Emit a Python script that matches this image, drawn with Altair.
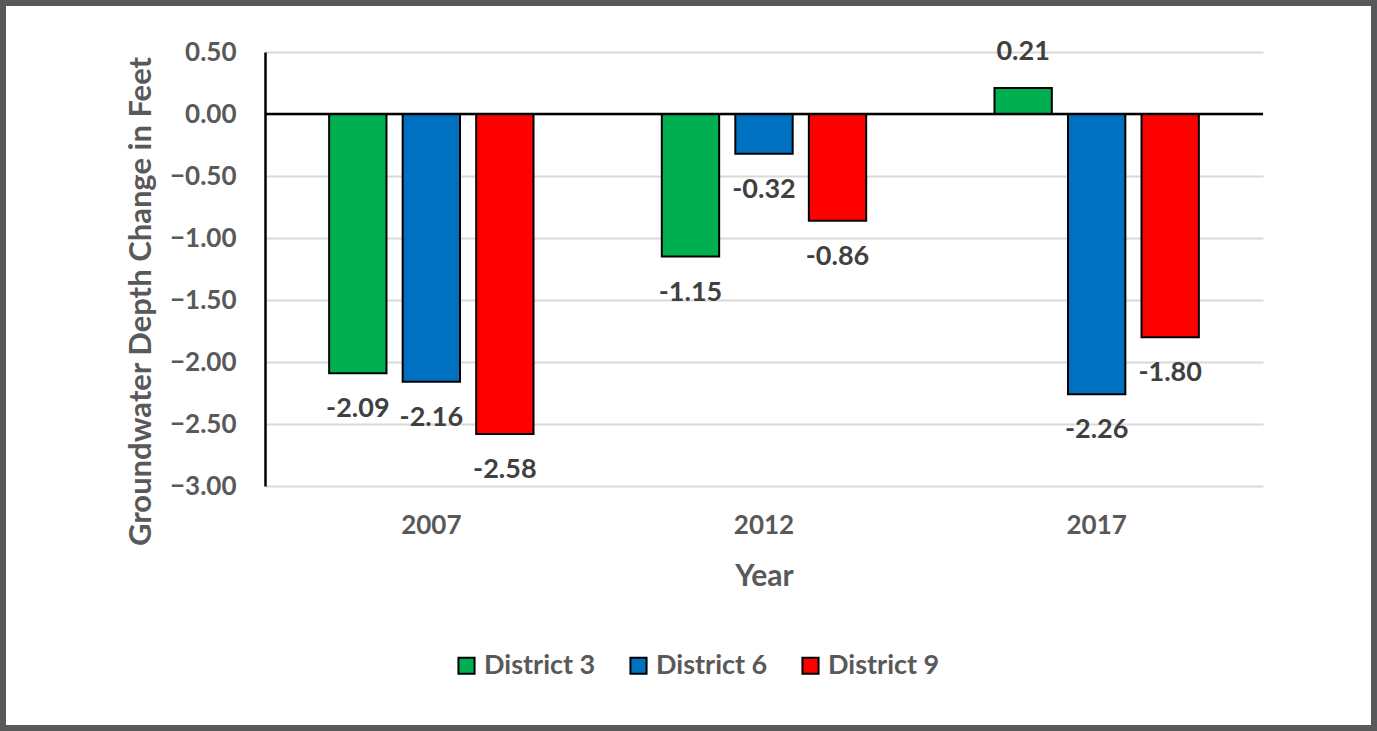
import altair as alt
import pandas as pd

years = ["2007", "2012", "2017"]
districts = ["District 3", "District 6", "District 9"]
colors = ["#00b050", "#0070c0", "#ff0000"]
d3 = [-2.09, -1.15, 0.21]
d6 = [-2.16, -0.32, -2.26]
d9 = [-2.58, -0.86, -1.80]

rows = []
for i, y in enumerate(years):
    for name, vals in zip(districts, [d3, d6, d9]):
        rows.append({"Year": y, "District": name, "Value": vals[i], "Label": f"{vals[i]:.2f}"})
df = pd.DataFrame(rows)

FONT = "Lato"
GRAY = "#595959"

x = alt.X("Year:N", sort=years, title="Year",
          scale=alt.Scale(paddingInner=0.337, paddingOuter=0.1685),
          axis=alt.Axis(labelAngle=0, domain=False, ticks=False, labelPadding=26,
                        titlePadding=23, labelFontSize=26, titleFontSize=30))
xo = alt.XOffset("District:N", sort=districts,
                 scale=alt.Scale(paddingInner=0.22, paddingOuter=0.11))
y = alt.Y("Value:Q", title="Groundwater Depth Change in Feet",
          scale=alt.Scale(domain=[-3, 0.5], nice=False),
          axis=alt.Axis(values=[0.5, 0, -0.5, -1, -1.5, -2, -2.5, -3], format=".2f",
                        domain=True, domainColor="black", domainWidth=2.5, ticks=False,
                        labelPadding=29, titlePadding=12, titleY=249, grid=True,
                        gridColor="#d9d9d9", gridWidth=2, labelFontSize=26,
                        titleFontSize=31))

base = alt.Chart(df)

bars = base.mark_bar(stroke="black", strokeWidth=2).encode(
    x=x, xOffset=xo, y=y,
    color=alt.Color("District:N", sort=districts,
                    scale=alt.Scale(domain=districts, range=colors),
                    legend=alt.Legend(title=None, orient="none", direction="horizontal",
                                      legendX=188, legendY=600, symbolType="square",
                                      symbolSize=260, symbolStrokeColor="black",
                                      symbolStrokeWidth=2, labelFontSize=27,
                                      labelFont=FONT, labelFontWeight="bold",
                                      labelColor=GRAY, columnPadding=29, labelOffset=4)),
)

zero = alt.Chart(pd.DataFrame({"z": [0]})).mark_rule(color="black", strokeWidth=2.5).encode(
    y=alt.Y("z:Q", scale=alt.Scale(domain=[-3, 0.5], nice=False)))

neg = base.transform_filter("datum.Value < 0").mark_text(
    font=FONT, fontWeight="bold", fontSize=27, color="#404040", dy=36).encode(
    x=alt.X("Year:N", sort=years), xOffset=xo, y="Value:Q", text="Label:N")
pos = base.transform_filter("datum.Value >= 0").mark_text(
    font=FONT, fontWeight="bold", fontSize=27, color="#404040", dy=-36).encode(
    x=alt.X("Year:N", sort=years), xOffset=xo, y="Value:Q", text="Label:N")

frame = alt.Chart(pd.DataFrame({"a": [0]})).mark_rect(
    fill=None, stroke="#58595b", strokeWidth=6, clip=False).encode(
    x=alt.value(-262), x2=alt.value(1109), y=alt.value(-49), y2=alt.value(676))

chart = alt.layer(bars, zero, neg, pos, frame).properties(
    width=998, height=434,
    autosize=alt.AutoSizeParams(type="none"),
    padding={"left": 265, "top": 52, "right": 114, "bottom": 245},
    background="white",
).configure_view(stroke=None).configure_axis(
    labelFont=FONT, titleFont=FONT, labelFontWeight="bold", titleFontWeight="bold",
    labelColor=GRAY, titleColor=GRAY)

chart.save("out.html", embed_options={"renderer": "svg", "actions": False})
